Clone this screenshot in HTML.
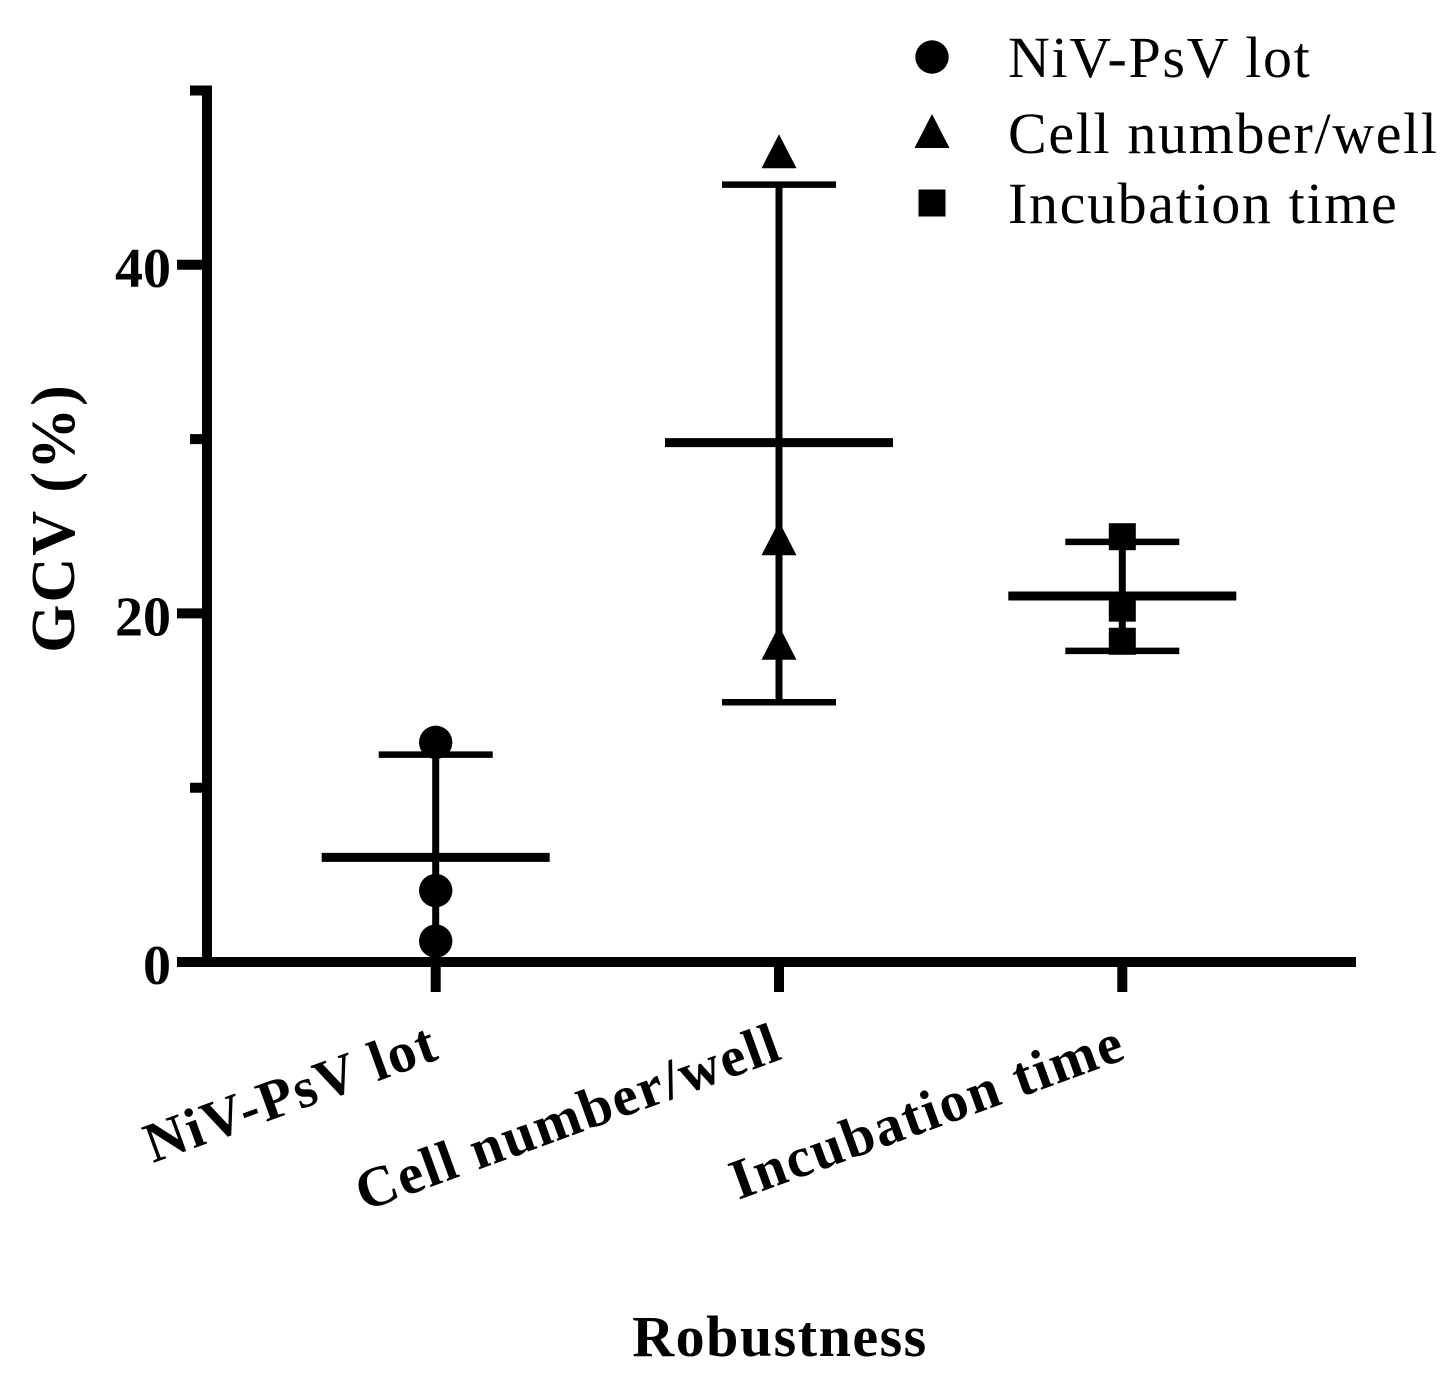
<!DOCTYPE html>
<html lang="en">
<head>
<meta charset="utf-8">
<title>GCV robustness chart</title>
<style>
  html, body { margin: 0; padding: 0; background: #fff; }
  svg { display: block; }
  text { font-family: "Liberation Serif", "DejaVu Serif", serif; fill: #000; }
</style>
</head>
<body>
<svg id="chart" xmlns="http://www.w3.org/2000/svg" width="1449" height="1383" viewBox="0 0 1449 1383"></svg>
<script>
const categories = ["NiV-PsV lot", "Cell number/well", "Incubation time"];
const markerKinds = ["circle", "triangle", "square"];
const pointValues = [
  [12.6, 4.1, 1.2],
  [46.4, 24.2, 18.2],
  [24.4, 20.3, 18.4]
];
const meanValues = [6.0, 29.8, 21.0];
const upperValues = [11.9, 44.6, 24.1];
const lowerValues = [0.05, 14.9, 17.85];
const yMajorTicks = [0, 20, 40];
const yMinorTicks = [10, 30, 50];

const svg = document.getElementById('chart');
const NS = 'http://www.w3.org/2000/svg';
const xScale = i => 435.7 + i * 343.3;
const yScale = v => 962 - v * 17.43;

function add(tag, attrs, name, text) {
  const el = document.createElementNS(NS, tag);
  for (const k in attrs) el.setAttribute(k, attrs[k]);
  
  
  if (text !== undefined) el.textContent = text;
  svg.appendChild(el);
  return el;
}
function line(x1, y1, x2, y2, w, name) {
  return add('line', { x1, y1, x2, y2, stroke: '#000', 'stroke-width': w }, name);
}
function marker(kind, cx, cy, name) {
  if (kind === 'circle') {
    return add('circle', { cx, cy, r: 16.7, fill: '#000' }, name);
  }
  if (kind === 'triangle') {
    const pts = [[cx, cy - 19], [cx + 17.5, cy + 15], [cx - 17.5, cy + 15]];
    return add('polygon', { points: pts.map(p => p.join(',')).join(' '), fill: '#000' }, name);
  }
  return add('rect', { x: cx - 13.5, y: cy - 13.5, width: 27, height: 27, fill: '#000' }, name);
}

/* axes */
line(207, yScale(50) - 5, 207, 967, 10, 'y-axis-line');
line(177, 962, 1356, 962, 10, 'x-axis-line');

yMajorTicks.forEach(v => {
  if (v !== 0) line(177, yScale(v), 207, yScale(v), 10, 'y-tick-' + v);
  add('text', { x: 171, y: yScale(v) + 22, 'text-anchor': 'end', 'font-size': 56, 'font-weight': 'bold' }, 'y-tick-label-' + v, String(v));
});
yMinorTicks.forEach(v => {
  line(190, yScale(v), 207, yScale(v), 10, 'y-minor-tick-' + v);
});

/* series */
categories.forEach((cat, i) => {
  const x = xScale(i);
  const slug = cat.toLowerCase().replace(/[^a-z]+/g, '-');
  line(x, 962, x, 992, 10, 'x-tick-' + slug);
  line(x, yScale(upperValues[i]), x, yScale(lowerValues[i]), 7, 'error-bar-' + slug);
  line(x - 57, yScale(upperValues[i]), x + 57, yScale(upperValues[i]), 6.5, 'upper-cap-' + slug);
  if (lowerValues[i] > 1) {
    line(x - 57, yScale(lowerValues[i]), x + 57, yScale(lowerValues[i]), 6.5, 'lower-cap-' + slug);
  }
  line(x - 114, yScale(meanValues[i]), x + 114, yScale(meanValues[i]), 9, 'mean-line-' + slug);
  pointValues[i].forEach((v, j) => {
    marker(markerKinds[i], x, yScale(v), 'point-' + slug + '-' + (j + 1));
  });
  const lx = x + 6, ly = 1058;
  add('text', {
    x: lx, y: ly, 'text-anchor': 'end', 'font-size': 57, 'font-weight': 'bold',
    'letter-spacing': 1.8, transform: 'rotate(-20 ' + lx + ' ' + ly + ')'
  }, 'x-category-label-' + slug, cat);
});

/* axis titles */
add('text', { x: 780, y: 1356, 'text-anchor': 'middle', 'font-size': 58, 'font-weight': 'bold', 'letter-spacing': 1.5 }, 'x-axis-title', 'Robustness');
add('text', { x: 0, y: 0, 'text-anchor': 'middle', 'font-size': 62, 'font-weight': 'bold', 'letter-spacing': 2, transform: 'translate(74 518) rotate(-90)' }, 'y-axis-title', 'GCV (%)');

/* legend */
const legendY = [57, 133, 203];
categories.forEach((cat, i) => {
  const slug = cat.toLowerCase().replace(/[^a-z]+/g, '-');
  marker(markerKinds[i], 932, legendY[i], 'legend-marker-' + slug);
  add('text', { x: 1008, y: legendY[i] + 20, 'font-size': 58, 'letter-spacing': 1.65 }, 'legend-label-' + slug, cat);
});
</script>
</body>
</html>
